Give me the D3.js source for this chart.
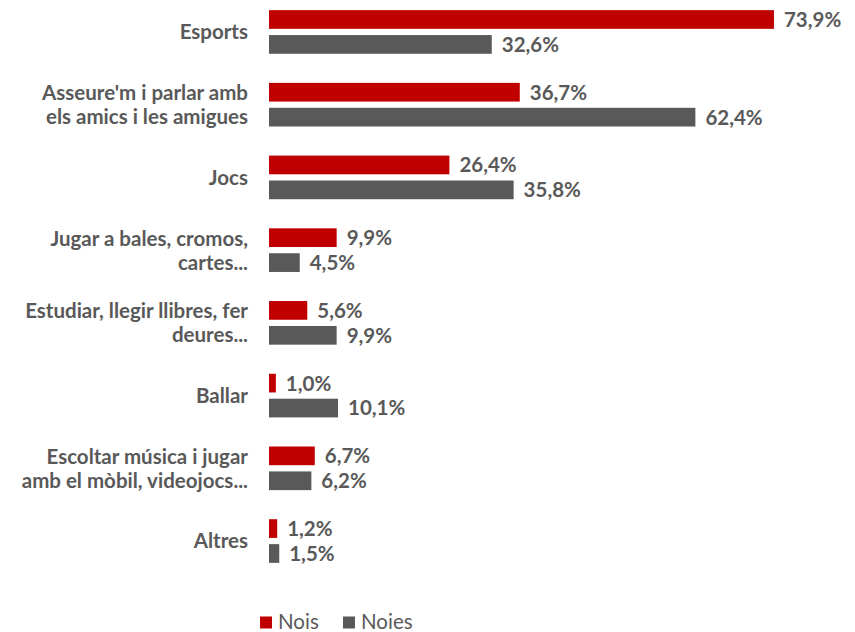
<!DOCTYPE html>
<html>
<head>
<meta charset="utf-8">
<script src="https://cdn.jsdelivr.net/npm/d3@7"></script>
<style>
  html, body { margin: 0; padding: 0; background: #fff; }
  svg { display: block; }
  text { font-family: Lato, "Open Sans", sans-serif; fill: #595959; }
</style>
</head>
<body>
<svg id="chart" width="855" height="632"></svg>
<script>
// Activities, one line array per label (labels wrap onto two lines)
const categories = [
  ["Esports"],
  ["Asseure'm i parlar amb", "els amics i les amigues"],
  ["Jocs"],
  ["Jugar a bales, cromos,", "cartes..."],
  ["Estudiar, llegir llibres, fer", "deures..."],
  ["Ballar"],
  ["Escoltar música i jugar", "amb el mòbil, videojocs..."],
  ["Altres"]
];
const series = ["Nois", "Noies"];
const nois  = [73.9, 36.7, 26.4, 9.9, 5.6, 1.0, 6.7, 1.2];
const noies = [32.6, 62.4, 35.8, 4.5, 9.9, 10.1, 6.2, 1.5];
const colors = ["#C00000", "#595959"];

const svg = d3.select("#chart");
const keys = categories.map(c => c.join(" "));
const values = [nois, noies];

const x = d3.scaleLinear().domain([0, 80]).range([269, 269 + 80 * 6.833]);
const y0 = d3.scaleBand().domain(keys).range([-4.4, 577.4]).paddingInner(0.4).paddingOuter(0.2);
const y1 = d3.scaleBand().domain(series).range([0, y0.bandwidth()]).paddingInner(0.25);
const fmt = v => d3.format(".1f")(v).replace(".", ",") + "%";
const fs = 20.5;

const groups = svg.selectAll("g.cat")
  .data(keys)
  .join("g")
  .attr("class", "cat")
  .attr("transform", k => `translate(0,${y0(k)})`);

groups.each(function(k, i) {
  const g = d3.select(this);
  series.forEach((s, j) => {
    const v = values[j][i];
    g.append("rect")
      .attr("x", x(0))
      .attr("y", y1(s))
      .attr("width", x(v) - x(0))
      .attr("height", y1.bandwidth())
      .attr("fill", colors[j]);
    g.append("text")
      .attr("x", x(v) + 10)
      .attr("y", y1(s) + y1.bandwidth() / 2)
      .attr("dy", "0.36em")
      .attr("font-size", fs)
      .attr("font-weight", "bold")
      .text(fmt(v));
  });
  // Category label, vertically centred on the pair of bars
  const lines = categories[i];
  const lh = 24;
  const mid = y0.bandwidth() / 2;
  const t = g.append("text")
    .attr("text-anchor", "end")
    .attr("font-size", fs)
    .attr("font-weight", "bold");
  lines.forEach((ln, li) => {
    t.append("tspan")
      .attr("x", 248)
      .attr("y", mid + (li - (lines.length - 1) / 2) * lh)
      .attr("dy", "0.36em")
      .text(ln);
  });
});

// Legend
const legend = svg.append("g").attr("transform", "translate(260,622)");
const legendX = [0, 83];
series.forEach((s, j) => {
  const lg = legend.append("g").attr("transform", `translate(${legendX[j]},0)`);
  lg.append("rect").attr("x", 0).attr("y", -5.5).attr("width", 12).attr("height", 12).attr("fill", colors[j]);
  lg.append("text").attr("x", 18).attr("y", 0).attr("dy", "0.36em")
    .attr("font-size", fs).text(s);
});
</script>
</body>
</html>
